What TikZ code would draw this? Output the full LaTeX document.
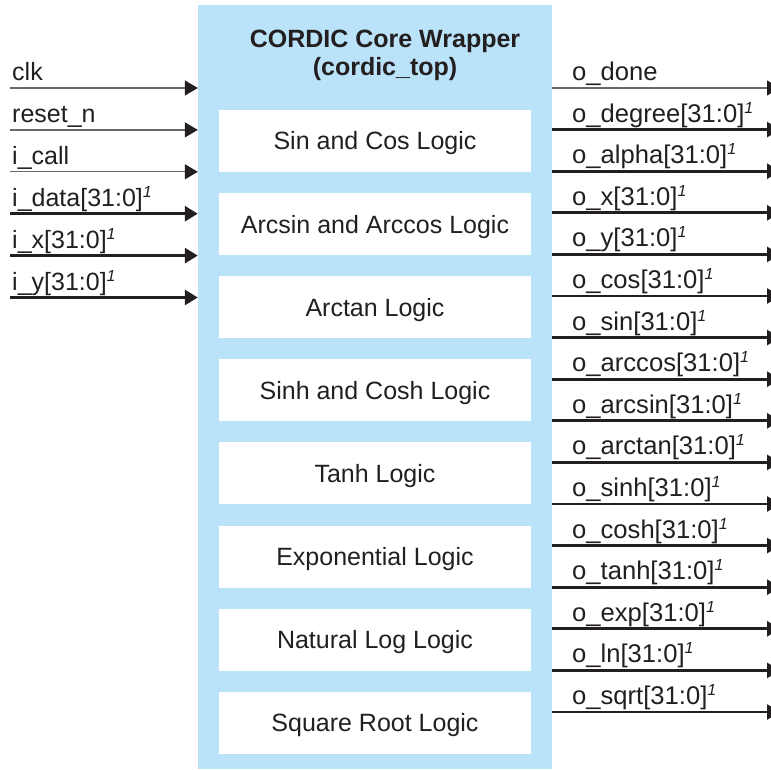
\documentclass[tikz,border=0pt]{standalone}
\usepackage{fontspec}
\setmainfont{Liberation Sans}
\usetikzlibrary{arrows.meta}
\definecolor{coreblue}{RGB}{186,226,248}
\definecolor{ink}{RGB}{35,31,32}
\definecolor{wire}{RGB}{105,105,105}
\newcommand{\sigsup}[1]{#1\raisebox{9pt}{\fontsize{16}{16}\selectfont\itshape 1}}
\begin{document}
\begin{tikzpicture}[x=1pt,y=-1pt,
  font=\fontsize{25}{30}\selectfont,
  corebox/.style={fill=coreblue,draw=none,inner sep=0,minimum width=353.5pt,minimum height=764pt},
  logicbox/.style={fill=white,draw=none,inner sep=0,minimum width=312pt,minimum height=62pt,text height=17.9pt,text depth=0pt,text=ink},
  titletext/.style={anchor=base,inner sep=0,text=ink,font=\fontsize{25}{30}\selectfont\bfseries},
  lbl/.style={anchor=base west,inner sep=0,text=ink},
  tipstyle/.style={-{Triangle[length=13pt,width=15pt,color=ink]}},
  thinw/.style={tipstyle,draw=wire,line width=1.3pt},
  thickw/.style={tipstyle,draw=ink,line width=2.8pt},
]
\useasboundingbox (0,0) rectangle (771,770);
\fill[white] (0,0) rectangle (771,770);
\node[corebox] (core) at (374.75,387) {};
\node[titletext] (title1) at (385,47.5) {CORDIC Core Wrapper};
\node[titletext] (title2) at (385,76) {(cordic\_top)};
\foreach \t [count=\i] in {Sin and Cos Logic, Arcsin and Arccos Logic, Arctan Logic, Sinh and Cosh Logic, Tanh Logic, Exponential Logic, Natural Log Logic, Square Root Logic}{
  \node[logicbox] (b\i) at (375,{141+83.1*(\i-1)}) {\t};
}
\foreach \t/\s [count=\i] in {{clk}/thinw, {reset\_n}/thinw, {i\_call}/thinw, {\sigsup{i\_data[31:0]}}/thickw, {\sigsup{i\_x[31:0]}}/thickw, {\sigsup{i\_y[31:0]}}/thickw}{
  \pgfmathsetmacro\yy{88+41.9*(\i-1)}
  \coordinate (is\i) at (10,\yy);
  \node[lbl] (il\i) at (12,\yy-7.5) {\t};
  \draw[\s] (is\i) -- (is\i -| core.west);
}
\foreach \t/\s [count=\i] in {{o\_done}/thinw, {\sigsup{o\_degree[31:0]}}/thickw, {\sigsup{o\_alpha[31:0]}}/thickw, {\sigsup{o\_x[31:0]}}/thickw, {\sigsup{o\_y[31:0]}}/thickw, {\sigsup{o\_cos[31:0]}}/thickw, {\sigsup{o\_sin[31:0]}}/thickw, {\sigsup{o\_arccos[31:0]}}/thickw, {\sigsup{o\_arcsin[31:0]}}/thickw, {\sigsup{o\_arctan[31:0]}}/thickw, {\sigsup{o\_sinh[31:0]}}/thickw, {\sigsup{o\_cosh[31:0]}}/thickw, {\sigsup{o\_tanh[31:0]}}/thickw, {\sigsup{o\_exp[31:0]}}/thickw, {\sigsup{o\_ln[31:0]}}/thickw, {\sigsup{o\_sqrt[31:0]}}/thickw}{
  \pgfmathsetmacro\yy{88+41.6*(\i-1)}
  \coordinate (oe\i) at (780,\yy);
  \node[lbl,font=\fontsize{25.6}{30}\selectfont] (ol\i) at (572,\yy-7.5) {\t};
  \draw[\s] (oe\i -| core.east) -- (oe\i);
}
\end{tikzpicture}
\end{document}
